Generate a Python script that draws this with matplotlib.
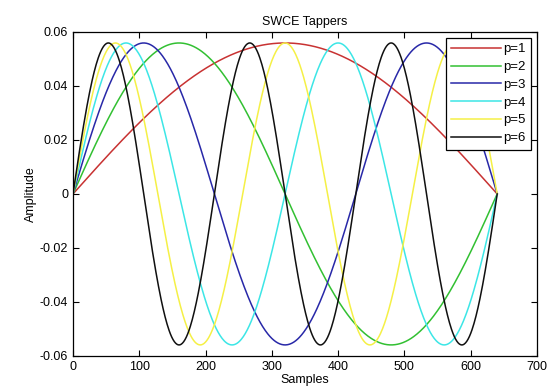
import numpy as np
import matplotlib
matplotlib.use("Agg")
import matplotlib.pyplot as plt

# sine tapers (SWCE)
orders = [1, 2, 3, 4, 5, 6]
labels = ["p=1", "p=2", "p=3", "p=4", "p=5", "p=6"]
n_samples = 640
peak_amp = 0.0559

colors = ["#c83232", "#32c032", "#2828a8", "#3ce6e6", "#f5f046", "#101010"]

plt.rcParams['font.family'] = ['Liberation Sans', 'DejaVu Sans']

n = np.arange(0, n_samples + 1)
fig = plt.figure(figsize=(5.55, 3.9), dpi=100)
ax = fig.add_axes([0.1315, 0.0872, 0.836, 0.831])

for p, lab, c in zip(orders, labels, colors):
    taper = peak_amp * np.sin(np.pi * p * n / n_samples)
    ax.plot(n, taper, color=c, lw=1.1, label=lab)

ax.set_xlim(0, 700)
ax.set_ylim(-0.06, 0.06)
ax.set_xticks(np.arange(0, 701, 100))
ax.set_yticks([-0.06, -0.04, -0.02, 0, 0.02, 0.04, 0.06])
ax.set_yticklabels(["-0.06", "-0.04", "-0.02", "0", "0.02", "0.04", "0.06"])
ax.tick_params(direction='in', top=True, right=True, labelsize=9, length=4, width=0.8)
for s in ax.spines.values():
    s.set_linewidth(0.9)

ax.set_title("SWCE Tappers", fontsize=9, pad=5)
ax.set_xlabel("Samples", fontsize=9, labelpad=1)
ax.set_ylabel("Amplitude", fontsize=9, labelpad=2)

leg = ax.legend(loc='upper right', fontsize=9.5, fancybox=False, framealpha=1,
                edgecolor='black', handlelength=3.8, borderaxespad=0.45,
                labelspacing=0.42, handletextpad=0.15, borderpad=0.4)
leg.get_frame().set_linewidth(0.9)

fig.savefig("out.png", dpi=100)
